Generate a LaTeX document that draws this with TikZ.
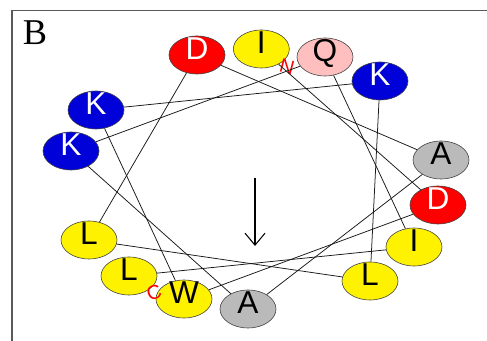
\documentclass[tikz,border=0pt]{standalone}
\usepackage{fontspec}
\setmainfont{Liberation Serif}
\setsansfont{Liberation Sans}
\usepackage{tikz}
\usetikzlibrary{shapes.geometric}
\usetikzlibrary{arrows.meta}

\begin{document}
\begin{tikzpicture}[-,auto,res node/.style={ellipse, draw=black!75, line width=0.5pt, minimum width=1.68cm, minimum height=1.14cm, inner sep=0pt, text height=0.72em, text depth=0pt, font=\sffamily\fontsize{27}{27}\selectfont},
	hyd/.style={res node, fill=yellow},
	acid/.style={res node, fill=red, text=white},
	base/.style={res node, fill=blue!85!black, text=white},
	small/.style={res node, fill=black!27},
	polar/.style={res node, fill=pink},
	term/.style={text=red, font=\sffamily\fontsize{17}{17}\selectfont, inner sep=0pt}]
			\useasboundingbox (0,0) rectangle (14.61,10.23);
			
			% Frame
			\draw[black!65, line width=1.3pt] (0.36,0) -- (0.36,9.915) -- (14.61,9.915);
			\node (lbl) at (1.05,9.24) {\fontsize{31}{31}\selectfont B};
			
			% Residues
			\node[hyd] (1) at (7.84,8.76) {I};
			\node[acid] (2) at (13.14,4.08) {D};
			\node[hyd] (3) at (5.52,1.26) {W};
			\node[base] (4) at (2.88,6.93) {K};
			\node[base] (5) at (11.40,7.80) {K};
			\node[hyd] (6) at (11.10,1.80) {L};
			\node[hyd] (7) at (2.67,3.03) {L};
			\node[acid] (8) at (5.91,8.58) {D};
			\node[small] (9) at (13.23,5.43) {A};
			\node[small] (10) at (7.44,0.96) {A};
			\node[base] (11) at (2.13,5.70) {K};
			\node[polar] (12) at (9.75,8.52) {Q};
			\node[hyd] (13) at (12.42,2.82) {I};
			\node[hyd] (14) at (3.87,1.95) {L};
			
			\node[term, rotate=-15] (nt) at (8.61,8.22) {N};
			\node[term, rotate=20] (ct) at (4.62,1.44) {C};
			
			\path[every edge/.append style={black!90, line width=0.65pt}]
			(1) edge (2)
			(2) edge (3)
			(3) edge (4)
			(4) edge (5)
			(5) edge (6)
			(6) edge (7)
			(7) edge (8)
			(8) edge (9)
			(9) edge (10)
			(10) edge (11)
			(11) edge (12)
			(12) edge (13)
			(13) edge (14);
			
			\coordinate (top) at (7.65,4.89);
			\coordinate (bot) at (7.65,2.85);
			\draw[-{Straight Barb[length=3.6mm, width=6mm]}, line width=0.9pt] (top) -- (bot);
			
		\end{tikzpicture}
\end{document}
